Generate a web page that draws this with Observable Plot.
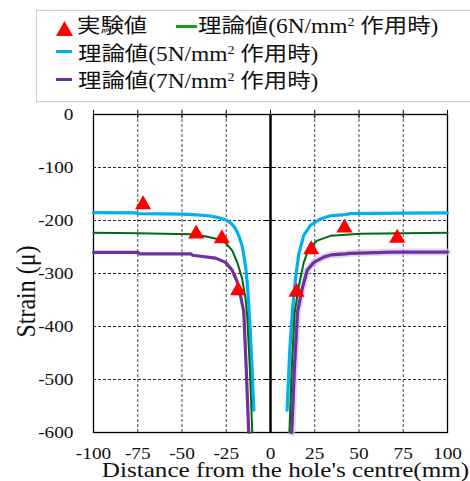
<!DOCTYPE html>
<html><head><meta charset="utf-8">
<script src="https://cdn.jsdelivr.net/npm/d3@7"></script>
<script src="https://cdn.jsdelivr.net/npm/@observablehq/plot@0.6"></script>
<style>
body{margin:0;background:#fff;}
#wrap{position:relative;width:470px;height:481px;overflow:hidden;}
#legend{position:absolute;left:36px;top:10px;width:460px;height:92px;border:1.5px solid #cfcfcf;background:#fff;box-sizing:border-box;font-family:"Liberation Serif","Times New Roman","Noto Sans CJK JP",serif;font-size:20px;color:#111;}
.lt{position:absolute;white-space:nowrap;transform:scaleX(1.17);transform-origin:0 50%;line-height:1;}
.dash{position:absolute;height:2.5px;}
.sup{font-size:12px;position:relative;top:-7px;}
.tri{position:absolute;}
</style></head>
<body>
<div id="wrap">
<div id="chart"></div>
<div id="legend"></div>
</div>
<script>
// ---- data ----
const xTicks = [-100, -75, -50, -25, 0, 25, 50, 75, 100];
const xTickLabels = ["-100", "-75", "-50", "-25", "0", "25", "50", "75", "100"];
const yTicks = [0, -100, -200, -300, -400, -500, -600];
const yTickLabels = ["0", "-100", "-200", "-300", "-400", "-500", "-600"];
const xTitle = "Distance from the hole's centre(mm)";
const yTitle = "Strain (μ)";

const seriesNames = ["実験値", "理論値(6N/mm", "理論値(5N/mm", "理論値(7N/mm"];

// experimental values
const expX = [-72, -42, -27.5, -18.3, 14.7, 23, 41.8, 71.6];
const expY = [-170, -225, -234, -332, -335, -255, -214, -233];

// theoretical, 5 N/mm2 (cyan)
const cyanLeft = [[-100,-185],[-76,-185.5],[-75,-187],[-50,-188],[-44,-189],[-35,-191],[-30,-194],[-25,-199],[-22,-206],[-19.8,-215],[-18,-228],[-16,-248],[-14.1,-285],[-13.2,-316],[-12.2,-362],[-10.8,-450],[-9.4,-558]];
const cyanRight = [[9.4,-558],[10.8,-450],[12.4,-370],[14.1,-310],[16,-263],[18.8,-228],[22.6,-209],[28.2,-197],[33.9,-191],[42.4,-189],[45,-187],[75,-186],[100,-185.5]];
// theoretical, 6 N/mm2 (green)
const greenLeft = [[-100,-223],[-75,-224],[-45,-226],[-40,-228],[-35,-231],[-30,-235],[-25.4,-242],[-21.6,-257],[-18.8,-279],[-16,-310],[-14.1,-348],[-13.2,-379],[-11.8,-470],[-10.3,-600]];
const greenRight = [[10.7,-600],[12,-480],[13.6,-375],[16,-323],[18.8,-279],[21.6,-253],[26.4,-238],[33.9,-229],[42.4,-227],[50.8,-225],[100,-223]];
// theoretical, 7 N/mm2 (purple)
const purpleLeft = [[-100,-260],[-75,-260],[-74,-263],[-45,-263],[-44,-265.5],[-31,-271],[-25.4,-279],[-21.6,-294],[-18.8,-316],[-17,-341],[-15.1,-372],[-13.7,-480],[-12.3,-600]];
const purpleRight = [[12,-600],[13.5,-480],[15.3,-372],[17.9,-329],[20.7,-294],[24.5,-279],[30.1,-269],[34,-265],[42.4,-263],[45,-262],[69.5,-259.5],[100,-259.5]];

// ---- chart ----
const C5 = "#00b0f0", C6 = "#006a10", C7 = "#7030a0";
const xGrid = xTicks.filter(d => d !== 0 && Math.abs(d) !== 100);
const yGrid = yTicks.filter(d => d !== 0 && d !== -600);
const expData = expX.map((x, i) => ({x, y: expY[i]}));

const svg = Plot.plot({
  width: 470, height: 481,
  marginLeft: 93, marginRight: 23, marginTop: 114, marginBottom: 49,
  x: {domain: [-100, 100], axis: null},
  y: {domain: [-600, 0], axis: null},
  style: {fontFamily: "'Liberation Serif', 'Times New Roman', serif", background: "transparent", color: "#111"},
  marks: [
    Plot.ruleX(xGrid, {stroke: "#444", strokeDasharray: "3,2", strokeWidth: 1}),
    Plot.ruleY(yGrid, {stroke: "#222", strokeDasharray: "3,2", strokeWidth: 1}),
    Plot.frame({stroke: "#000", strokeWidth: 1.3}),
    Plot.ruleX(xTicks, {y1: 8, y2: -8, stroke: "#000", strokeWidth: 1}),
    Plot.ruleX([0], {stroke: "#000", strokeWidth: 2.5}),
    Plot.ruleY(yGrid, {x1: -3, x2: 3, stroke: "#000", strokeWidth: 1}),
    Plot.line(purpleRight, {stroke: "#cfc8ea", strokeWidth: 7, strokeOpacity: 0.7}),
    Plot.line(cyanLeft, {stroke: C5, strokeWidth: 3.2}),
    Plot.line(cyanRight, {stroke: C5, strokeWidth: 3.2}),
    Plot.line(purpleLeft, {stroke: C7, strokeWidth: 3.2}),
    Plot.line(purpleRight, {stroke: C7, strokeWidth: 3.2}),
    Plot.line(greenLeft, {stroke: C6, strokeWidth: 2}),
    Plot.line(greenRight, {stroke: C6, strokeWidth: 2}),
    Plot.dot(expData, {x: "x", y: "y", symbol: "triangle", r: 6, fill: "#ff0000", stroke: "none"}),
    Plot.text(xTicks, {x: d => d, text: (d, i) => xTickLabels[i], frameAnchor: "bottom", lineAnchor: "top", dy: 15, fontSize: 16.5, fill: "#111"}),
    Plot.text(yTicks, {y: d => d, text: (d, i) => yTickLabels[i], frameAnchor: "left", textAnchor: "end", dx: -20, fontSize: 16.5, fill: "#111"}),
    Plot.text([xTitle], {frameAnchor: "bottom", textAnchor: "middle", lineAnchor: "middle", dy: 38, dx: 15, fontSize: 21.5, fill: "#111"}),
    Plot.text([yTitle], {frameAnchor: "left", textAnchor: "middle", lineAnchor: "middle", rotate: -90, dx: -67, dy: 18, fontSize: 24, fill: "#111"})
  ]
});

// horizontal stretch of text, as in the reference picture
svg.querySelectorAll("text").forEach(t => {
  const tr = t.getAttribute("transform");
  if (tr) {
    t.setAttribute("transform", tr + (tr.includes("rotate") ? " scale(1,1.1)" : " scale(1.17,1)"));
  } else {
    const x = +t.getAttribute("x") || 0, y = +t.getAttribute("y") || 0;
    t.setAttribute("transform", `translate(${x},${y}) scale(1.17,1) translate(${-x},${-y})`);
  }
});
document.getElementById("chart").appendChild(svg);

// ---- legend ----
const lg = document.getElementById("legend");
lg.innerHTML = `
  <svg class="tri" style="left:18.5px;top:9.5px" width="17" height="15"><polygon points="8.5,0 17,15 0,15" fill="#ff0000"/></svg>
  <div class="lt" style="left:40px;top:5.3px">${seriesNames[0]}</div>
  <div class="dash" style="left:138.5px;top:14.3px;width:21px;background:#1d9a1d"></div>
  <div class="lt" style="left:160.5px;top:5.3px">${seriesNames[1]}<span class="sup">2</span> 作用時)</div>
  <div class="dash" style="left:18.5px;top:39.3px;width:16px;background:${C5}"></div>
  <div class="lt" style="left:40.5px;top:33.3px">${seriesNames[2]}<span class="sup">2</span> 作用時)</div>
  <div class="dash" style="left:18.5px;top:67.3px;width:16px;background:${C7}"></div>
  <div class="lt" style="left:40.5px;top:60.3px">${seriesNames[3]}<span class="sup">2</span> 作用時)</div>
`;
</script>
</body></html>
